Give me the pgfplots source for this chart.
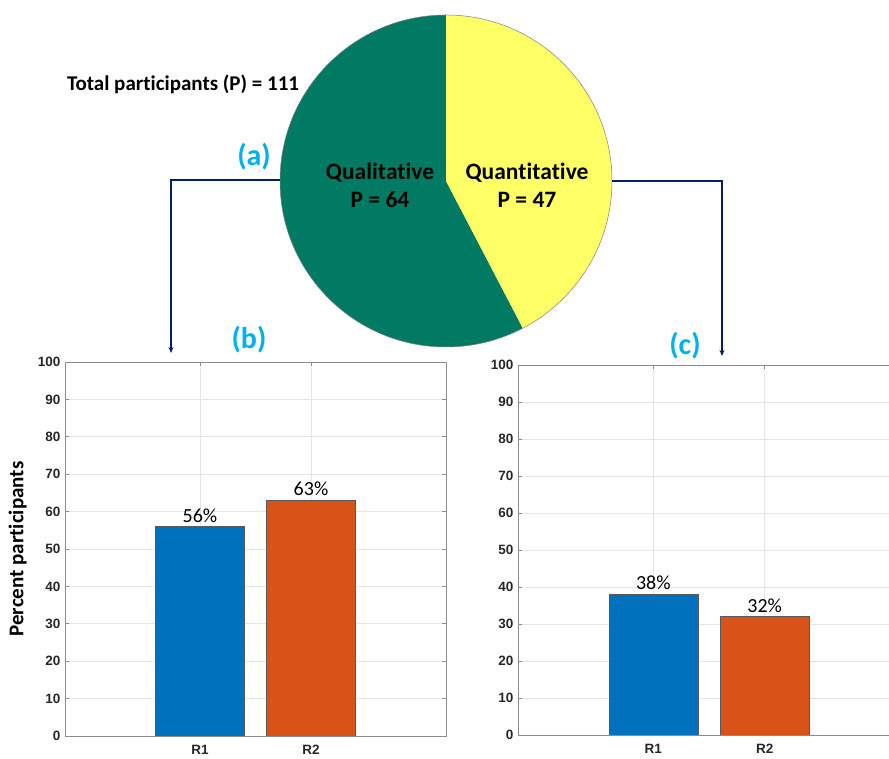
\documentclass[border=0pt]{standalone}
\usepackage{pgfplots}
\pgfplotsset{compat=1.18}
\usepackage{fontspec}
\setmainfont{Carlito}[RawFeature={-liga;-clig;-calt;-dlig}]
\newfontfamily\arial{Liberation Sans}
\usetikzlibrary{arrows.meta}
\definecolor{pgreen}{RGB}{0,122,98}
\definecolor{pyellow}{RGB}{255,255,102}
\definecolor{mblue}{RGB}{0,114,189}
\definecolor{morange}{RGB}{217,83,25}
\definecolor{navy}{RGB}{0,32,96}
\definecolor{lcyan}{RGB}{0,176,240}
\def\nqual{64}
\def\nquan{47}
\pgfplotsset{
  barax/.style={
    scale only axis, anchor=south west,
    xmin=-0.216, xmax=3.216, ymin=0, ymax=100,
    xtick={1,2}, xticklabels={R1,R2},
    ytick={0,10,...,100},
    grid=major, grid style={black!10, line width=0.6pt},
    axis line style={black!45, line width=0.8pt},
    tick style={black!45, line width=0.8pt},
    tick align=inside, major tick length=4pt,
    /pgf/number format/assume math mode=true,
    tick label style={font=\arial\bfseries\fontsize{13.5}{13.5}\selectfont, text=black!85},
    yticklabel style={xshift=-1pt},
    xticklabel style={yshift=-6pt},
    nodes near coords style={font=\fontsize{20}{20}\selectfont, text=black, anchor=south, inner sep=1pt, yshift=3pt},
    every axis plot/.append style={ybar, bar width=0.8, bar shift=0pt, draw=black!65, line width=0.6pt},
  }
}
\begin{document}
\begin{tikzpicture}[x=1pt,y=1pt]
\useasboundingbox (0,0) rectangle (889,759);
\pgfmathsetmacro{\angq}{90+360*(\nqual/(\nqual+\nquan))}
% pie
\begin{axis}[at={(446pt,578pt)}, anchor=center, scale only axis, width=332pt, height=332pt,
  xmin=-1, xmax=1, ymin=-1, ymax=1, hide axis, clip=false]
  \fill[pgreen] (axis cs:0,0) -- (axis cs:0,1) arc[start angle=90, end angle=\angq, radius=166pt] -- cycle;
  \fill[pyellow] (axis cs:0,0) -- (axis cs:{cos(\angq)},{sin(\angq)}) arc[start angle=\angq, end angle=450, radius=166pt] -- cycle;
  \draw[black!50, line width=0.5pt] (axis cs:0,0) circle[radius=166pt];
\end{axis}
% arrows
\draw[navy, line width=1.4pt, -{Stealth[length=6pt,width=5pt]}] (280,579) -- (171,579) -- (171,406);
\draw[navy, line width=1.4pt, -{Stealth[length=6pt,width=5pt]}] (612,578) -- (722,578) -- (722,403);
% texts
\node[font=\bfseries\fontsize{21}{21}\selectfont] at (183,675) {Total participants (P) = 111};
\node[font=\bfseries\fontsize{30}{30}\selectfont, text=lcyan] at (254,602) {(a)};
\node[font=\bfseries\fontsize{30}{30}\selectfont, text=lcyan] at (249,419) {(b)};
\node[font=\bfseries\fontsize{30}{30}\selectfont, text=lcyan] at (685,413) {(c)};
\node[font=\bfseries\fontsize{23.5}{28}\selectfont, align=center] at (380,574) {Qualit\kern0pt ative\\P = 64};
\node[font=\bfseries\fontsize{23.5}{28}\selectfont, align=center] at (527,574) {Quant\kern0pt it\kern0pt ative\\P = 47};
% (b)
\begin{axis}[barax, at={(65pt,23pt)}, width=381pt, height=374pt,
  ylabel={Percent participants},
  ylabel style={at={(axis description cs:-0.124,0.5)}, anchor=center, font=\bfseries\fontsize{21}{21}\selectfont}]
  \addplot[fill=mblue, nodes near coords, point meta=explicit symbolic] coordinates {(1,56) [56\%]};
  \addplot[fill=morange, nodes near coords, point meta=explicit symbolic] coordinates {(2,63) [63\%]};
\end{axis}
% (c)
\begin{axis}[barax, at={(518pt,24pt)}, width=382pt, height=370pt]
  \addplot[fill=mblue, nodes near coords, point meta=explicit symbolic] coordinates {(1,38) [38\%]};
  \addplot[fill=morange, nodes near coords, point meta=explicit symbolic] coordinates {(2,32) [32\%]};
\end{axis}
\end{tikzpicture}
\end{document}
